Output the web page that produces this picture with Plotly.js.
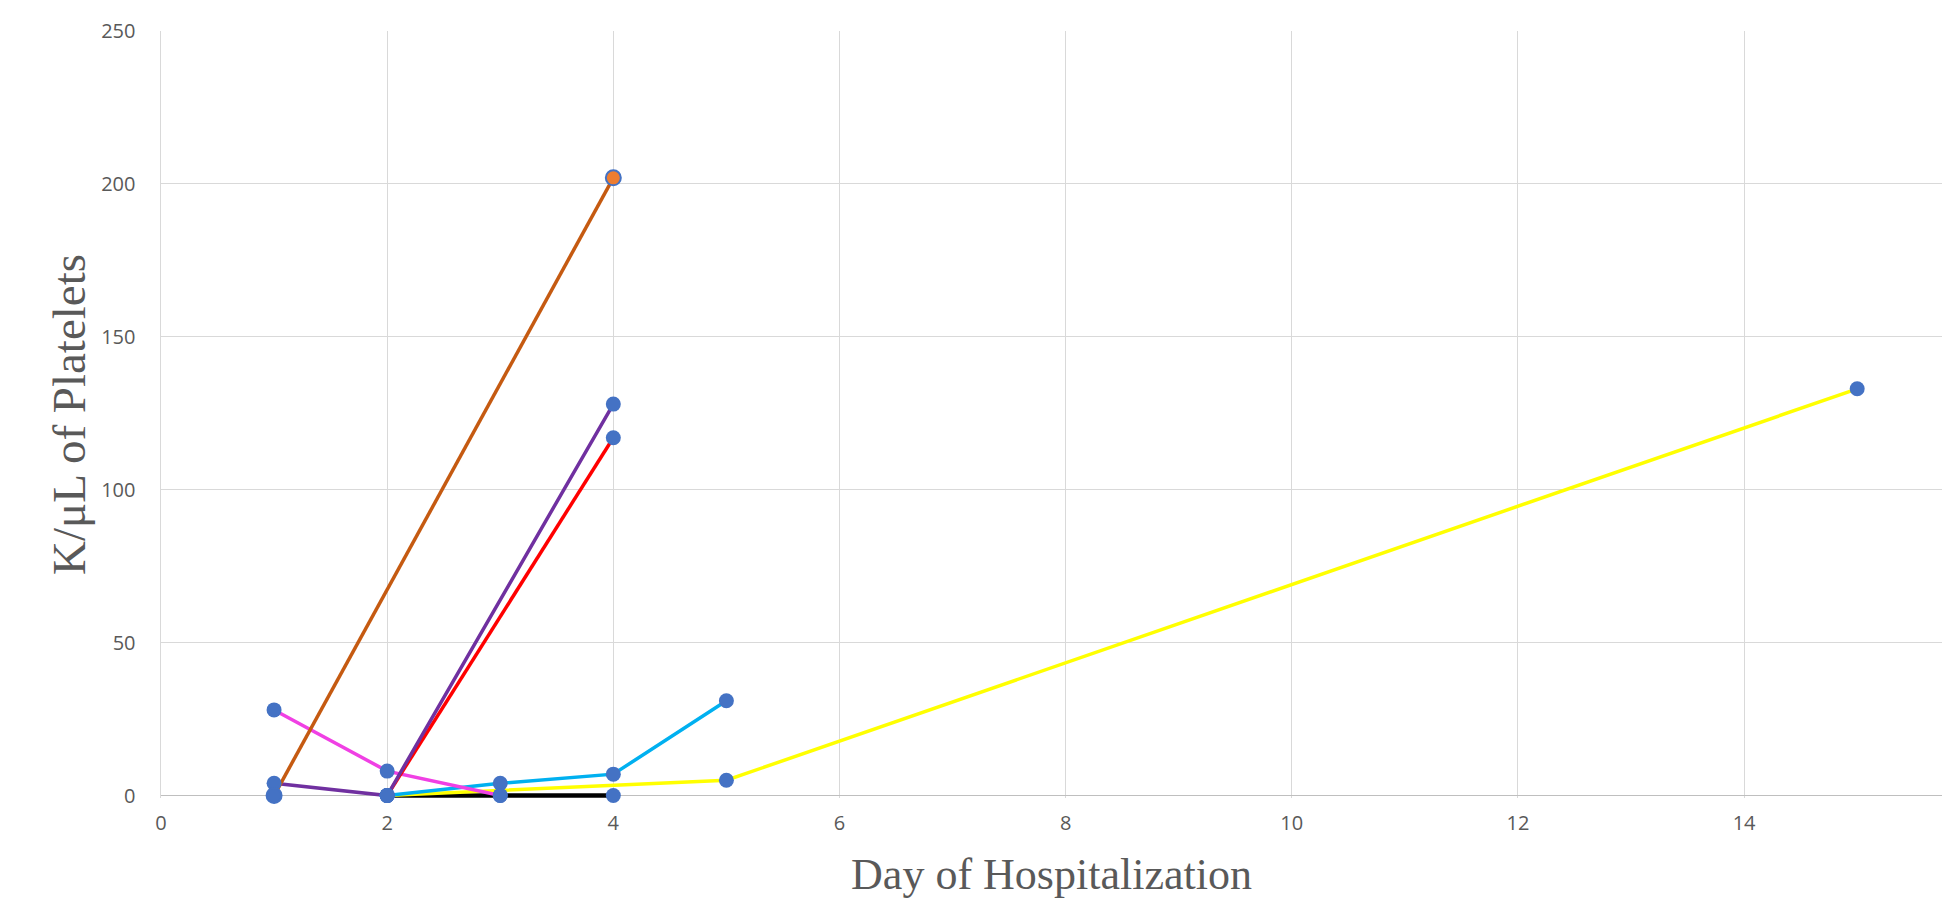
<!DOCTYPE html>
<html>
<head>
<meta charset="utf-8">
<script src="https://cdn.plot.ly/plotly-3.0.1.min.js"></script>
<style>
  html, body { margin: 0; padding: 0; background: #ffffff; }
  #chart { width: 1942px; height: 899px; }
</style>
</head>
<body>
<div id="chart"></div>
<script>
// Day of hospitalization (x) and platelet counts in K/uL (y) per patient series
const blackDays = [2, 3, 4];
const blackVals = [0, 0, 0];

const yellowDays = [2, 5, 15];
const yellowVals = [0, 5, 133];

const cyanDays = [2, 3, 4, 5];
const cyanVals = [0, 4, 7, 31];

const pinkDays = [1, 2, 3];
const pinkVals = [28, 8, 0];

const redDays = [2, 4];
const redVals = [0, 117];

const purpleDays = [1, 2, 4];
const purpleVals = [4, 0, 128];

const orangeDays = [1, 4];
const orangeVals = [0, 202];

const xTickVals = [0, 2, 4, 6, 8, 10, 12, 14];
const yTickVals = [0, 50, 100, 150, 200, 250];

const xTitle = "Day of Hospitalization";
const yTitle = "K/μL of Platelets";

const series = [
  {x: blackDays,  y: blackVals,  color: "#000000", width: 4.5},
  {x: yellowDays, y: yellowVals, color: "#FFFF00", width: 3.5},
  {x: cyanDays,   y: cyanVals,   color: "#00B0F0", width: 3.5},
  {x: pinkDays,   y: pinkVals,   color: "#F040E4", width: 3.5},
  {x: redDays,    y: redVals,    color: "#FF0000", width: 3.5},
  {x: purpleDays, y: purpleVals, color: "#7030A0", width: 3.5},
  {x: orangeDays, y: orangeVals, color: "#C55A11", width: 3.5}
];

const traces = [];
// lines first
series.forEach(s => {
  traces.push({
    type: "scatter", mode: "lines", x: s.x, y: s.y,
    line: {color: s.color, width: s.width},
    hoverinfo: "skip", showlegend: false, cliponaxis: false
  });
});
// markers on top
series.forEach((s, i) => {
  const isOrange = (i === series.length - 1);
  traces.push({
    type: "scatter", mode: "markers", x: s.x, y: s.y,
    marker: {
      size: 15,
      color: isOrange ? ["#4472C4", "#ED7D31"] : "#4472C4",
      line: {color: "#4472C4", width: isOrange ? 2 : 0}
    },
    showlegend: false, cliponaxis: false
  });
});

const layout = {
  width: 1942, height: 899,
  paper_bgcolor: "#ffffff", plot_bgcolor: "#ffffff",
  margin: {l: 161, r: 0, t: 31, b: 101, pad: 0},
  showlegend: false,
  xaxis: {
    range: [0, 15.75],
    tickvals: xTickVals,
    showgrid: true, gridcolor: "#D9D9D9", gridwidth: 1,
    zeroline: false, layer: "below traces",
    showline: false,
    ticks: "", ticklabelstandoff: 11,
    tickfont: {family: "Open Sans", size: 20, color: "#595959"},
    title: {text: xTitle, standoff: 31,
            font: {family: "Liberation Serif", size: 44, color: "#595959"}}
  },
  yaxis: {
    range: [-0.8, 250],
    tickvals: yTickVals,
    showgrid: true, gridcolor: "#D9D9D9", gridwidth: 1,
    zeroline: true, zerolinecolor: "#BFBFBF", zerolinewidth: 1.5,
    layer: "below traces",
    showline: true, linecolor: "#D9D9D9", linewidth: 1.5,
    ticks: "", ticklabelstandoff: 20,
    tickfont: {family: "Open Sans", size: 20, color: "#595959"},
    title: {text: yTitle, standoff: 0,
            font: {family: "Liberation Serif", size: 47, color: "#595959"}}
  }
};

Plotly.newPlot("chart", traces, layout, {displayModeBar: false, staticPlot: true});
</script>
</body>
</html>
